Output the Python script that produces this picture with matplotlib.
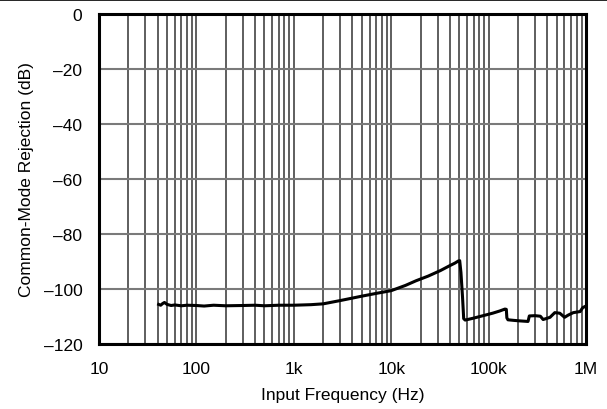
import matplotlib
matplotlib.use("Agg")
import matplotlib.pyplot as plt
from matplotlib.lines import Line2D
from matplotlib.ticker import FixedLocator, FixedFormatter, NullFormatter

plt.rcParams['font.family'] = ['Liberation Sans', 'DejaVu Sans']

# common-mode rejection vs input frequency
freq_hz = [41, 43, 45, 47, 50, 55, 60, 70, 80, 100, 120, 150, 200, 300, 400,
           500, 700, 1000, 1500, 2000, 3000, 4000, 5000, 7000, 10000, 14000,
           18000, 24000, 32000, 40000, 45000, 49000, 50500, 52000, 54000,
           55500, 57500, 70000, 90000, 110000, 130000, 147000, 152000, 154000,
           158000, 180000, 210000, 254000, 262000, 300000, 340000, 363000,
           427000, 478000, 538000, 603000, 656000, 740000, 870000, 925000,
           960000]
cmr_db = [-105.6, -105.9, -105.3, -104.9, -105.6, -106.0, -105.8, -106.1,
          -105.9, -106.0, -106.2, -105.9, -106.1, -106.0, -105.9, -106.1,
          -105.9, -105.9, -105.7, -105.4, -104.2, -103.3, -102.6, -101.6,
          -100.6, -98.7, -97.0, -95.3, -93.3, -91.5, -90.6, -89.8, -89.7,
          -94.0, -103.0, -110.8, -111.3, -110.6, -109.6, -108.8, -108.0,
          -107.3, -107.4, -110.5, -111.2, -111.4, -111.6, -111.8, -109.8,
          -109.7, -109.9, -111.1, -110.3, -108.6, -108.8, -110.3, -109.5,
          -108.6, -108.2, -106.8, -106.5]

x_ticks = [10, 100, 1e3, 1e4, 1e5, 1e6]
x_tick_labels = ['10', '100', '1k', '10k', '100k', '1M']
y_ticks = [0, -20, -40, -60, -80, -100, -120]
y_tick_labels = ['0', '\u201320', '\u201340', '\u201360', '\u201380',
                 '\u2013100', '\u2013120']

fig = plt.figure(figsize=(6.07, 4.10), dpi=100)
ax = fig.add_axes([99 / 607, 1 - 345 / 410, 487 / 607, 330 / 410])

ax.plot(freq_hz, cmr_db, color='black', lw=2.2, zorder=3)

ax.set_xscale('log')
ax.set_xlim(10, 1e6)
ax.set_ylim(-120, 0)

ax.xaxis.set_major_locator(FixedLocator(x_ticks))
ax.xaxis.set_major_formatter(FixedFormatter(x_tick_labels))
minors = [m * 10 ** e for e in range(1, 6) for m in range(2, 10)]
ax.xaxis.set_minor_locator(FixedLocator(minors))
ax.xaxis.set_minor_formatter(NullFormatter())
ax.set_yticks(y_ticks)
ax.set_yticklabels(y_tick_labels)

ax.grid(True, axis='x', which='both', color='#333333', lw=1.1)
ax.grid(True, axis='y', which='major', color='#7a7a7a', lw=1.5)

ax.tick_params(axis='both', which='both', length=0, labelsize=12.5)
ax.tick_params(axis='x', pad=12)
ax.tick_params(axis='y', pad=12)

for s in ax.spines.values():
    s.set_linewidth(2.2)
    s.set_zorder(4)

ax.set_xlabel('Input Frequency (Hz)', fontsize=12.5, labelpad=8)
ax.set_ylabel('Common-Mode Rejection (dB)', fontsize=12.5, labelpad=7)

# thin rule across the very top of the image
fig.add_artist(Line2D([0, 1], [0.998, 0.998], color='black', lw=1.2,
                      transform=fig.transFigure))

fig.savefig('out.png', dpi=100)
